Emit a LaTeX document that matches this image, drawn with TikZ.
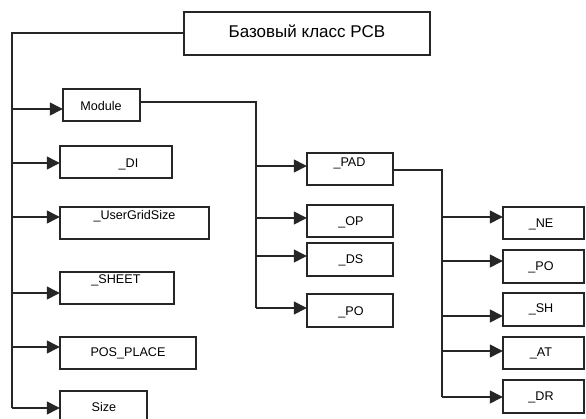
\documentclass[tikz,border=0pt]{standalone}
\usepackage{fontspec}
\setmainfont{Liberation Sans}
\usetikzlibrary{arrows.meta}
\begin{document}
\begin{tikzpicture}[x=1pt,y=-1pt,
  box/.style={draw=black!85,line width=1.4pt,inner sep=0pt,minimum height=32pt},
  txt/.style={inner sep=0pt,font=\fontsize{12.6}{13}\selectfont},
  conn/.style={draw=black!85,line width=1.3pt},
  arr/.style={conn,-{Triangle[length=13pt,width=13pt]},shorten >=-0.5pt}]
\useasboundingbox[fill=white] (0,0) rectangle (586,418);
% boxes
\node[box,minimum width=246pt,minimum height=43pt] (base) at (307,33.5) {};
\node[inner sep=0pt,font=\fontsize{17}{19}\selectfont] (baset) at (307,31) {Базовый класс PCB};
\node[box,minimum width=77pt] (module) at (101.5,105) {};
\node[txt] (modulet) at (101,106) {Module};
\node[box,minimum width=112pt] (di) at (116,162) {};
\node[txt] (dit) at (128.5,164) {\_DI};
\node[box,minimum width=149pt] (ugs) at (134.5,223) {};
\node[txt] (ugst) at (134.5,216) {\_UserGridSize};
\node[box,minimum width=114pt] (sheet) at (117,288) {};
\node[txt] (sheett) at (116,280) {\_SHEET};
\node[box,minimum width=136pt] (pos) at (128,353) {};
\node[txt] (post) at (128,353) {POS\_PLACE};
\node[box,minimum width=87pt] (size) at (103.5,407) {};
\node[txt] (sizet) at (104,407) {Size};
\node[box,minimum width=86pt] (pad) at (350,169) {};
\node[txt] (padt) at (349.5,163) {\_PAD};
\node[box,minimum width=86pt] (op) at (350,221) {};
\node[txt] (opt) at (351,222) {\_OP};
\node[box,minimum width=86pt,minimum height=33pt] (ds) at (350,259.5) {};
\node[txt] (dst) at (351,260) {\_DS};
\node[box,minimum width=86pt,minimum height=33pt] (po) at (350,310.5) {};
\node[txt] (pot) at (351,312) {\_PO};
\node[box,minimum width=81pt] (ne) at (543.5,223) {};
\node[txt] (net) at (541,224) {\_NE};
\node[box,minimum width=81pt,minimum height=33pt] (po2) at (543.5,266.5) {};
\node[txt] (po2t) at (541,267) {\_PO};
\node[box,minimum width=81pt,minimum height=33pt] (sh) at (543.5,309.5) {};
\node[txt] (sht) at (541,309) {\_SH};
\node[box,minimum width=81pt] (at) at (543.5,353) {};
\node[txt] (att) at (541,353) {\_AT};
\node[box,minimum width=81pt,minimum height=33pt] (dr) at (543.5,396.5) {};
\node[txt] (drt) at (541,397) {\_DR};
% trunk from base
\coordinate (bw) at (base.west |- 0,33);
\coordinate (a1) at (12,109);
\coordinate (a2) at (12,163);
\coordinate (a3) at (12,217);
\coordinate (a4) at (12,293);
\coordinate (a5) at (12,347);
\coordinate (a6) at (12,408);
\draw[conn] (bw) -| (a6);
\draw[arr] (a1) -- (a1 -| module.west);
\draw[arr] (a2) -- (a2 -| di.west);
\draw[arr] (a3) -- (a3 -| ugs.west);
\draw[arr] (a4) -- (a4 -| sheet.west);
\draw[arr] (a5) -- (a5 -| pos.west);
\draw[arr] (a6) -- (a6 -| size.west);
% trunk from module
\coordinate (me) at (module.east |- 0,102);
\coordinate (b1) at (256,166);
\coordinate (b2) at (256,218);
\coordinate (b3) at (256,256);
\coordinate (b4) at (256,308);
\draw[conn] (me) -| (b4);
\draw[arr] (b1) -- (b1 -| pad.west);
\draw[arr] (b2) -- (b2 -| op.west);
\draw[arr] (b3) -- (b3 -| ds.west);
\draw[arr] (b4) -- (b4 -| po.west);
% trunk from pad
\coordinate (pe) at (pad.east |- 0,170);
\coordinate (c1) at (442,217);
\coordinate (c2) at (442,261);
\coordinate (c3) at (442,316);
\coordinate (c4) at (442,351);
\coordinate (c5) at (442,397);
\draw[conn] (pe) -| (c5);
\draw[arr] (c1) -- (c1 -| ne.west);
\draw[arr] (c2) -- (c2 -| po2.west);
\draw[arr] (c3) -- (c3 -| sh.west);
\draw[arr] (c4) -- (c4 -| at.west);
\draw[arr] (c5) -- (c5 -| dr.west);
\end{tikzpicture}
\end{document}
